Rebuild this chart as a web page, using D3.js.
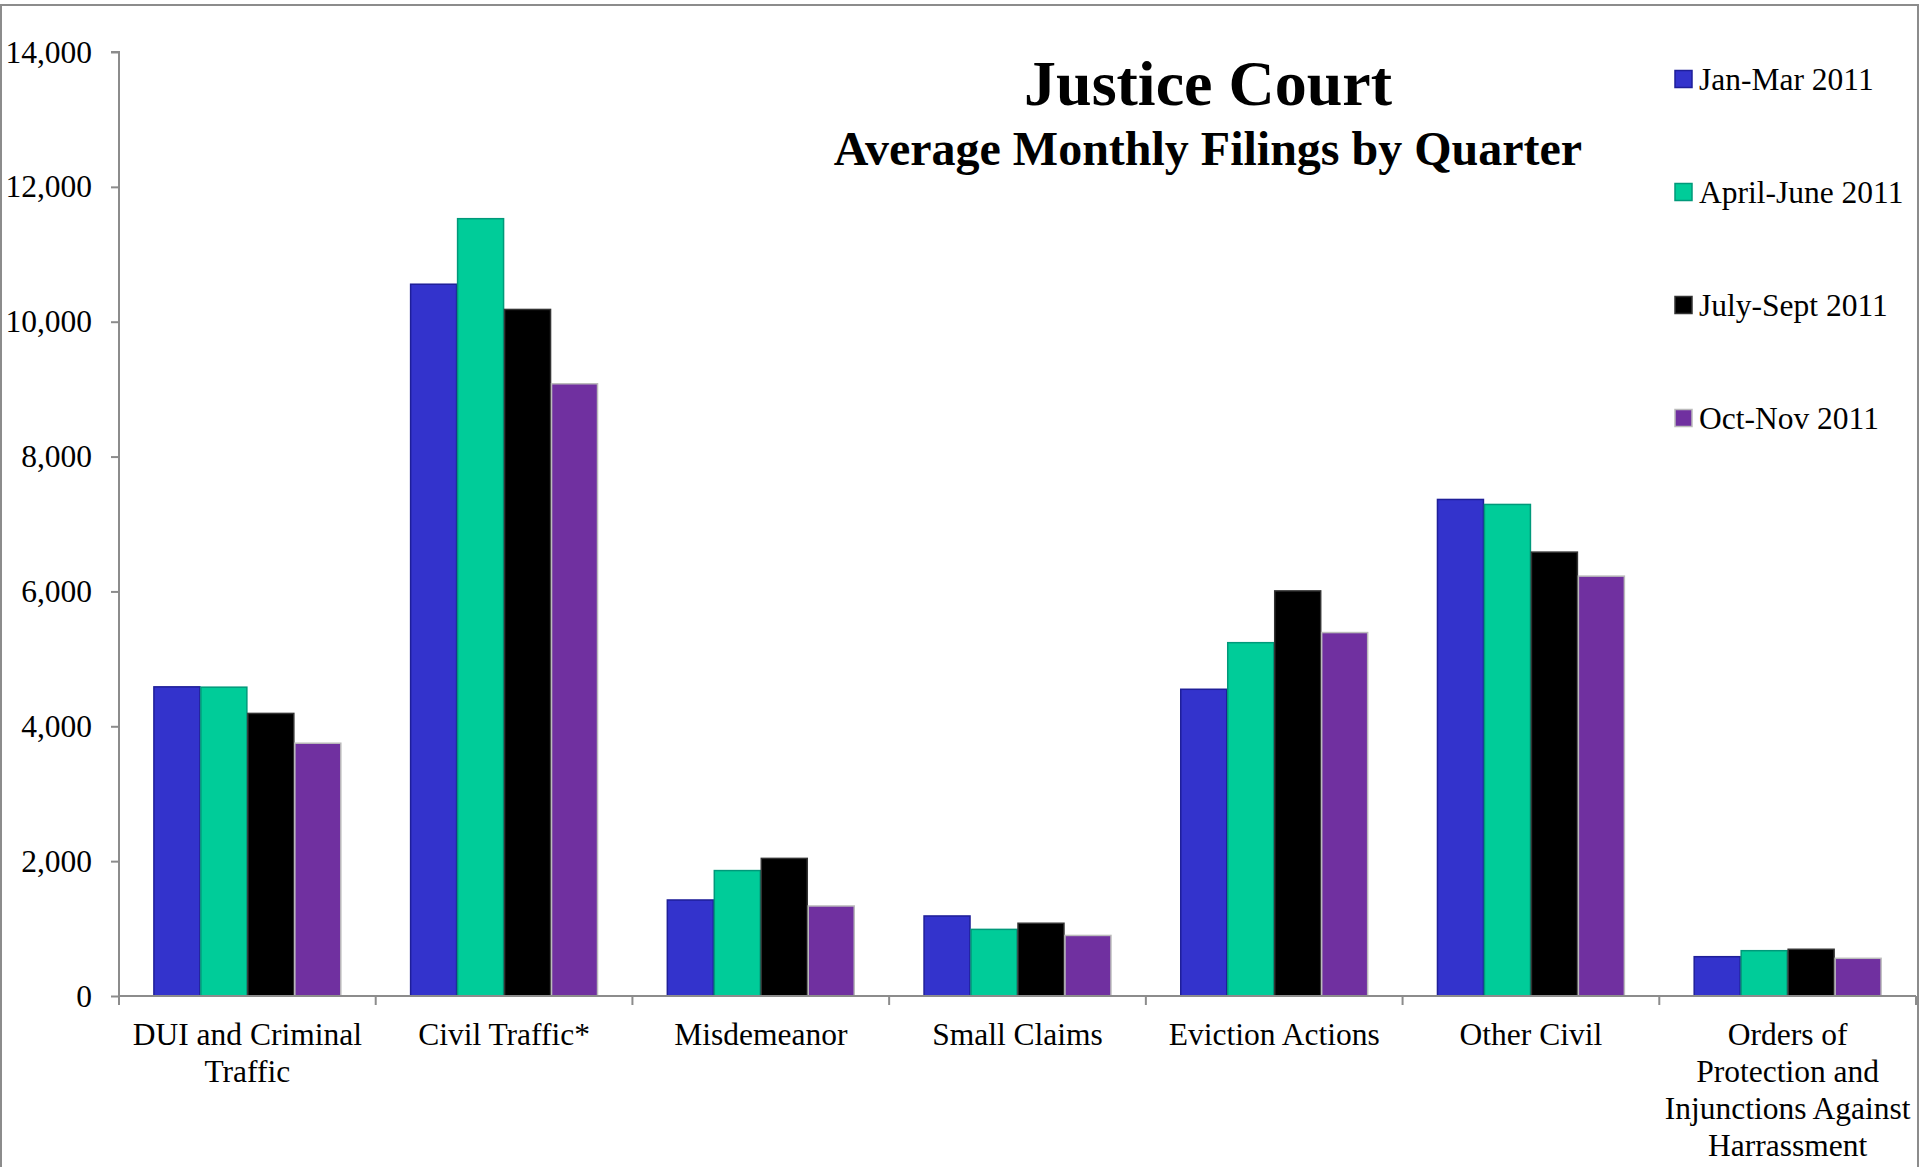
<!DOCTYPE html>
<html>
<head>
<meta charset="utf-8">
<script src="https://cdn.jsdelivr.net/npm/d3@7"></script>
<style>
  html, body { margin: 0; padding: 0; background: #fff; }
  svg { display: block; }
  text { font-family: "Liberation Serif", "Times New Roman", serif; fill: #000; }
</style>
</head>
<body>
<svg id="chart" width="1920" height="1167"></svg>
<script>
// ---- data ----
const categories = [
  "DUI and Criminal\nTraffic",
  "Civil Traffic*",
  "Misdemeanor",
  "Small Claims",
  "Eviction Actions",
  "Other Civil",
  "Orders of\nProtection and\nInjunctions Against\nHarrassment"
];
const seriesNames = ["Jan-Mar 2011", "April-June 2011", "July-Sept 2011", "Oct-Nov 2011"];
const janMar   = [4585, 10556, 1424, 1187, 4549, 7364, 583];
const aprJun   = [4580, 11528, 1860,  988, 5240, 7290, 672];
const julSep   = [4191, 10182, 2041, 1079, 6008, 6583, 693];
const octNov   = [3749,  9080, 1335,  898, 5390, 6227, 559];
const seriesValues = [janMar, aprJun, julSep, octNov];
const yTicks = [0, 2000, 4000, 6000, 8000, 10000, 12000, 14000];
const titleText = "Justice Court";
const subtitleText = "Average Monthly Filings by Quarter";

// ---- styles ----
const fills   = ["#3333CC", "#00CC99", "#000000", "#7030A0"];
const strokes = ["#1F1F99", "#00997A", "#333333", "#BBBBBB"];

(function () {
const svg = d3.select("#chart");

// outer border
svg.append("rect")
  .attr("x", 1).attr("y", 5).attr("width", 1917).attr("height", 1200)
  .attr("fill", "none").attr("stroke", "#8c8c8c").attr("stroke-width", 2);

const pLeft = 119, pRight = 1916, pTop = 52, pBottom = 996;

const x0 = d3.scaleBand().domain(categories).range([pLeft, pRight])
  .paddingInner(0.268).paddingOuter(0.134);
const x1 = d3.scaleBand().domain(seriesNames).range([0, x0.bandwidth()]).padding(0);
const y = d3.scaleLinear().domain([0, 14000]).range([pBottom, pTop]);

// bars
const groups = svg.append("g").selectAll("g")
  .data(categories)
  .join("g")
  .attr("transform", d => `translate(${x0(d)},0)`);

groups.selectAll("rect")
  .data((c, ci) => seriesNames.map((s, si) => ({ s, si, v: seriesValues[si][ci] })))
  .join("rect")
  .attr("x", d => x1(d.s) + 0.5)
  .attr("width", x1.bandwidth() - 1)
  .attr("y", d => y(d.v))
  .attr("height", d => y(0) - y(d.v))
  .attr("fill", d => fills[d.si])
  .attr("stroke", d => strokes[d.si])
  .attr("stroke-width", 1.5);

// y axis
const yAxis = svg.append("g")
  .attr("transform", `translate(${pLeft},0)`)
  .call(d3.axisLeft(y).tickValues(yTicks).tickSize(8).tickPadding(19).tickFormat(d3.format(",")));
yAxis.selectAll("path, line").attr("stroke", "#8c8c8c").attr("stroke-width", 2);
yAxis.select(".domain").attr("d", `M-8,${pTop}H0V${pBottom}`);
yAxis.selectAll("text")
  .style("font-family", '"Liberation Serif", "Times New Roman", serif')
  .style("font-size", "31.5px").attr("fill", "#000");

// x axis line and boundary ticks
const xAxisG = svg.append("g");
xAxisG.append("line")
  .attr("x1", pLeft).attr("x2", pRight).attr("y1", pBottom).attr("y2", pBottom)
  .attr("stroke", "#8c8c8c").attr("stroke-width", 2);
const boundaries = categories.map(c => x0(c) - (x0.step() - x0.bandwidth()) / 2).concat([pRight]);
xAxisG.selectAll("line.tick")
  .data(boundaries)
  .join("line")
  .attr("class", "tick")
  .attr("x1", d => d).attr("x2", d => d)
  .attr("y1", pBottom).attr("y2", pBottom + 9)
  .attr("stroke", "#8c8c8c").attr("stroke-width", 2);

// category labels
const labels = svg.append("g").selectAll("text")
  .data(categories)
  .join("text")
  .attr("x", d => x0(d) + x0.bandwidth() / 2)
  .attr("y", pBottom + 49)
  .attr("text-anchor", "middle")
  .style("font-size", "31.5px");
labels.each(function(d) {
  const t = d3.select(this);
  d.split("\n").forEach((line, i) => {
    t.append("tspan")
      .attr("x", x0(d) + x0.bandwidth() / 2)
      .attr("dy", i === 0 ? 0 : 37)
      .text(line);
  });
});

// title
svg.append("text")
  .attr("x", 1208).attr("y", 105)
  .attr("text-anchor", "middle")
  .style("font-size", "64px").style("font-weight", "bold")
  .text(titleText);
svg.append("text")
  .attr("x", 1208).attr("y", 165)
  .attr("text-anchor", "middle")
  .style("font-size", "48px").style("font-weight", "bold")
  .text(subtitleText);

// legend
const legend = svg.append("g").selectAll("g")
  .data(seriesNames)
  .join("g")
  .attr("transform", (d, i) => `translate(1675,${79 + i * 113})`);
legend.append("rect")
  .attr("x", 0).attr("y", -8.5).attr("width", 17).attr("height", 17)
  .attr("fill", (d, i) => fills[i])
  .attr("stroke", (d, i) => strokes[i])
  .attr("stroke-width", 1.5);
legend.append("text")
  .attr("x", 24).attr("y", 11)
  .style("font-size", "31.5px")
  .text(d => d);
})();
</script>
</body>
</html>
